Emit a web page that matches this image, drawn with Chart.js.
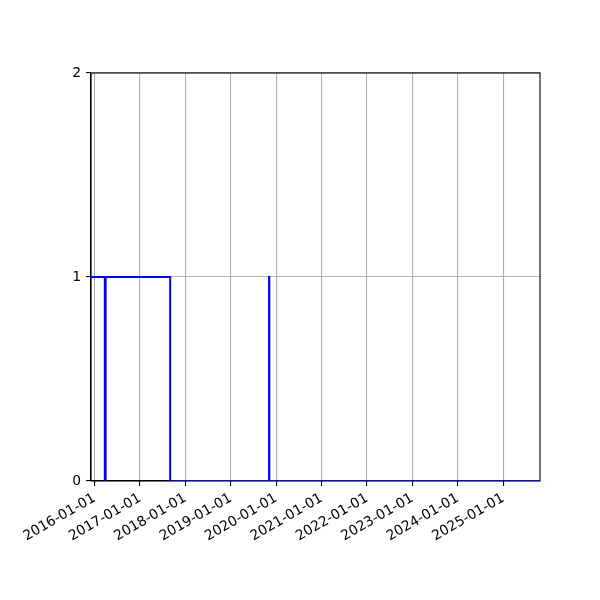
<!DOCTYPE html>
<html>
<head>
<meta charset="utf-8">
<script src="https://cdn.jsdelivr.net/npm/chart.js@4/dist/chart.umd.min.js"></script>
<style>
html,body{margin:0;padding:0;background:#fff;}
#wrap{width:600px;height:600px;}
</style>
</head>
<body>
<div id="wrap"><canvas id="c" width="600" height="600"></canvas></div>
<script>
// Data
const dates = ['2015-12-04','2016-03-24','2016-03-31','2017-09-01','2019-11-05','2019-11-07','2025-10-23'];
const values = [1, 0, 1, 0, 1, 0, 0];
const tickYears = [2016,2017,2018,2019,2020,2021,2022,2023,2024,2025];
const yTicks = [0, 1, 2];
const xMin = '2015-12-04';
const xMax = '2025-10-23';

const toMs = s => Date.parse(s + 'T00:00:00Z');
const points = dates.map((d, i) => ({x: toMs(d), y: values[i]}));
const pad2 = n => String(n).padStart(2, '0');
const fmt = ms => { const d = new Date(ms); return d.getUTCFullYear() + '-' + pad2(d.getUTCMonth()+1) + '-' + pad2(d.getUTCDate()); };

const frame = {
  id: 'frame',
  beforeDatasetsDraw(chart) {
    const a = chart.chartArea, ctx = chart.ctx;
    ctx.save();
    ctx.strokeStyle = '#000';
    ctx.lineWidth = 1.1;
    ctx.strokeRect(a.left, a.top, a.right - a.left, a.bottom - a.top);
    ctx.restore();
  }
};

new Chart(document.getElementById('c'), {
  type: 'line',
  data: {
    datasets: [{
      data: points,
      borderColor: '#0000ff',
      borderWidth: 2,
      stepped: 'before',
      pointRadius: 0,
      fill: false,
      tension: 0
    }]
  },
  options: {
    responsive: false,
    animation: false,
    events: [],
    layout: {padding: {left: 0, top: 73, right: 60, bottom: 0}},
    plugins: {legend: {display: false}, tooltip: {enabled: false}},
    scales: {
      x: {
        type: 'linear',
        min: toMs(xMin),
        max: toMs(xMax),
        afterBuildTicks: s => { s.ticks = tickYears.map(y => ({value: Date.UTC(y, 0, 1)})); },
        afterFit: s => { s.height = 119; },
        grid: {color: '#b0b0b0', lineWidth: 1.1, tickColor: '#000', tickLength: 5, drawTicks: true},
        border: {display: true, color: '#000', width: 1.1},
        ticks: {
          autoSkip: false,
          maxRotation: 30,
          minRotation: 30,
          padding: 4,
          color: '#000',
          font: {family: 'DejaVu Sans', size: 13.9},
          callback: v => fmt(v)
        }
      },
      y: {
        type: 'linear',
        min: 0,
        max: 2,
        afterBuildTicks: s => { s.ticks = yTicks.map(v => ({value: v})); },
        afterFit: s => { s.width = 91; },
        grid: {color: '#b0b0b0', lineWidth: 1.1, tickColor: '#000', tickLength: 5, drawTicks: true},
        border: {display: true, color: '#000', width: 1.1},
        ticks: {
          padding: 5,
          color: '#000',
          font: {family: 'DejaVu Sans', size: 13.9},
          callback: v => String(v)
        }
      }
    }
  },
  plugins: [frame]
});
</script>
</body>
</html>
